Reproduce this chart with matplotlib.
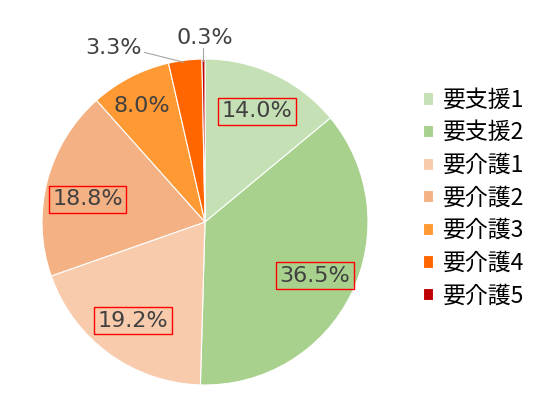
#!/usr/bin/env python3
"""Care level pie chart."""

import sys

import matplotlib
matplotlib.use('Agg')
import matplotlib.pyplot as plt

plt.rcParams['font.family'] = ['Noto Sans CJK JP', 'DejaVu Sans']

labels = ['要支援1', '要支援2', '要介護1', '要介護2', '要介護3', '要介護4', '要介護5']
values = [14.0, 36.5, 19.2, 18.8, 8.0, 3.3, 0.3]
colors = ['#c5e0b4', '#a9d18e', '#f8cbad', '#f4b183', '#ff9933', '#ff6600', '#c00000']


def main() -> int:
    """Draw the chart."""
    fig = plt.figure(figsize=(5.5, 4.0), dpi=100)
    ax = fig.add_axes([42 / 550, 15 / 400, 326 / 550, 326 / 400])

    wedges, _, autotexts = ax.pie(
        values, colors=colors, startangle=90, counterclock=False,
        autopct='%1.1f%%', pctdistance=0.75,
        wedgeprops=dict(edgecolor='white', linewidth=0.8),
        textprops=dict(fontsize=16, color='#404040',
                       family=['DejaVu Sans', 'Noto Sans CJK JP']))
    ax.set_xlim(-1, 1)
    ax.set_ylim(-1, 1)
    ax.set_aspect('equal')

    # boxed labels
    for t in autotexts[:4]:
        t.set_bbox(dict(boxstyle='square,pad=0.15', facecolor='none',
                        edgecolor='#ff0000', linewidth=1))
    autotexts[3].set_position((-0.72, 0.14))
    autotexts[4].set_position((-0.39, 0.71))

    # small slices: labels outside with leader lines
    autotexts[5].set_position((-0.56, 1.07))
    ax.plot([-0.37, -0.13], [1.04, 0.98], color='#a6a6a6', lw=0.8,
            clip_on=False)
    autotexts[6].set_position((0.0, 1.13))
    ax.plot([-0.01, -0.01], [1.07, 0.99], color='#a6a6a6', lw=0.8,
            clip_on=False)
    for t in autotexts:
        t.set_clip_on(False)

    ax.legend(wedges, labels, loc='center left',
              bbox_to_anchor=(402 / 550, 0.505),
              bbox_transform=fig.transFigure, frameon=False,
              fontsize=16.5, handlelength=0.45, handleheight=0.45,
              handletextpad=0.45, labelspacing=0.42)

    fig.savefig('out.png', dpi=100)
    return 0


if __name__ == '__main__':
    sys.exit(main())
